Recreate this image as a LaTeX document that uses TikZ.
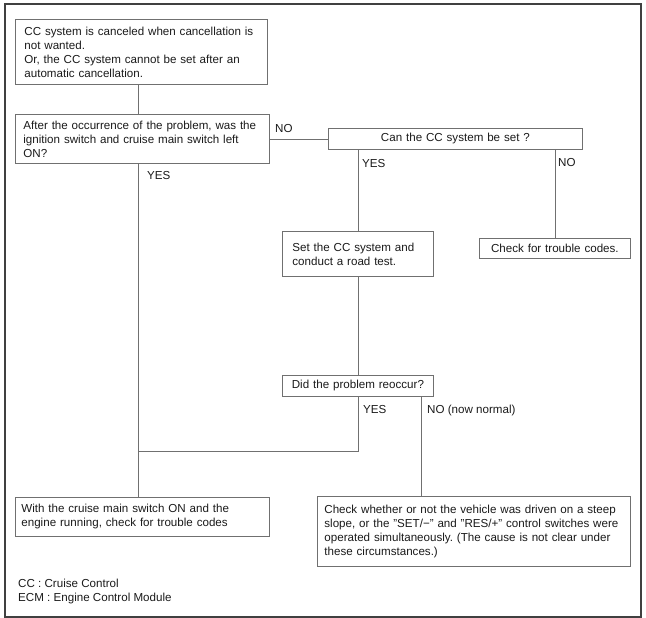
\documentclass[tikz,border=0pt]{standalone}
\usepackage{fontspec}
\setmainfont{Liberation Sans}
\usepackage{xcolor}
\definecolor{boxline}{HTML}{707070}
\definecolor{frameline}{HTML}{404040}
\definecolor{inktext}{HTML}{1A1A1A}
\frenchspacing

\begin{document}
\begin{tikzpicture}[
    x=1pt, y=-1pt,
    every node/.style={font=\fontsize{11.6}{14}\selectfont, text=inktext},
    flowbox/.style={draw=boxline, line width=0.8pt, rectangle, anchor=north west, align=left, inner ysep=2pt},
    question/.style={flowbox, align=center, inner xsep=8pt},
    answer/.style={anchor=base west, inner sep=0pt},
    link/.style={draw=boxline, line width=0.8pt},
    frame/.style={draw=frameline, line width=1.2pt}
]

\useasboundingbox (0,0) rectangle (646,618);
\draw[frame] (5,4) rectangle (641,617);

\node[flowbox, inner xsep=9pt, text width=234pt, minimum height=65pt] (cancel) at (15,19) {CC system is canceled when cancellation is\\not wanted.\\Or, the CC system cannot be set after an\\automatic cancellation.};
\node[flowbox, inner xsep=8pt, text width=238pt, minimum height=49pt] (leftON) at (15,114) {After the occurrence of the problem, was the\\ignition switch and cruise main switch left\\ON?};
\node[question, text width=238pt, minimum height=21pt] (canset) at (328,128) {Can the CC system be set ?};
\node[flowbox, inner xsep=10pt, text width=131pt, minimum height=45pt] (roadtest) at (282,231) {Set the CC system and\\conduct a road test.};
\node[question, text width=135pt, minimum height=20pt] (codesA) at (479,238) {Check for trouble codes.};
\node[question, text width=135pt, minimum height=21pt] (reoccur) at (282,375) {Did the problem reoccur?};
\node[flowbox, inner xsep=6pt, text width=242pt, minimum height=39pt] (codesB) at (15,497) {With the cruise main switch ON and the\\engine running, check for trouble codes};
\node[flowbox, inner xsep=7pt, text width=299pt, minimum height=70pt] (steep) at (317,496) {Check whether or not the vehicle was driven on a steep\\slope, or the "SET/−" and "RES/+" control switches were\\operated simultaneously. (The cause is not clear under\\these circumstances.)};

\node[answer] (noA) at (275,132) {NO};
\node[answer] (yesA) at (147,179) {YES};
\node[answer] (yesB) at (362,167) {YES};
\node[answer] (noB) at (558,166) {NO};
\node[answer] (yesC) at (363,413) {YES};
\node[answer] (noC) at (427,413) {NO (now normal)};
\node[answer] (legendcc) at (18,587) {CC : Cruise Control};
\node[answer] (legendecm) at (18,601) {ECM : Engine Control Module};

\coordinate (trunk) at (138,0);
\coordinate (join) at (138,451);
\coordinate (nobranch) at (421,0);

\draw[link] (cancel.south -| trunk) -- (leftON.north -| trunk);
\draw[link] (leftON.south -| trunk) -- (codesB.north -| trunk);
\draw[link] (leftON.east) -- (canset.west);
\draw[link] (canset.south -| roadtest.north) -- (roadtest.north);
\draw[link] (canset.south -| codesA.north) -- (codesA.north);
\draw[link] (roadtest.south) -- (reoccur.north);
\draw[link] (reoccur.south) |- (join);
\draw[link] (reoccur.south -| nobranch) -- (steep.north -| nobranch);

\end{tikzpicture}
\end{document}
